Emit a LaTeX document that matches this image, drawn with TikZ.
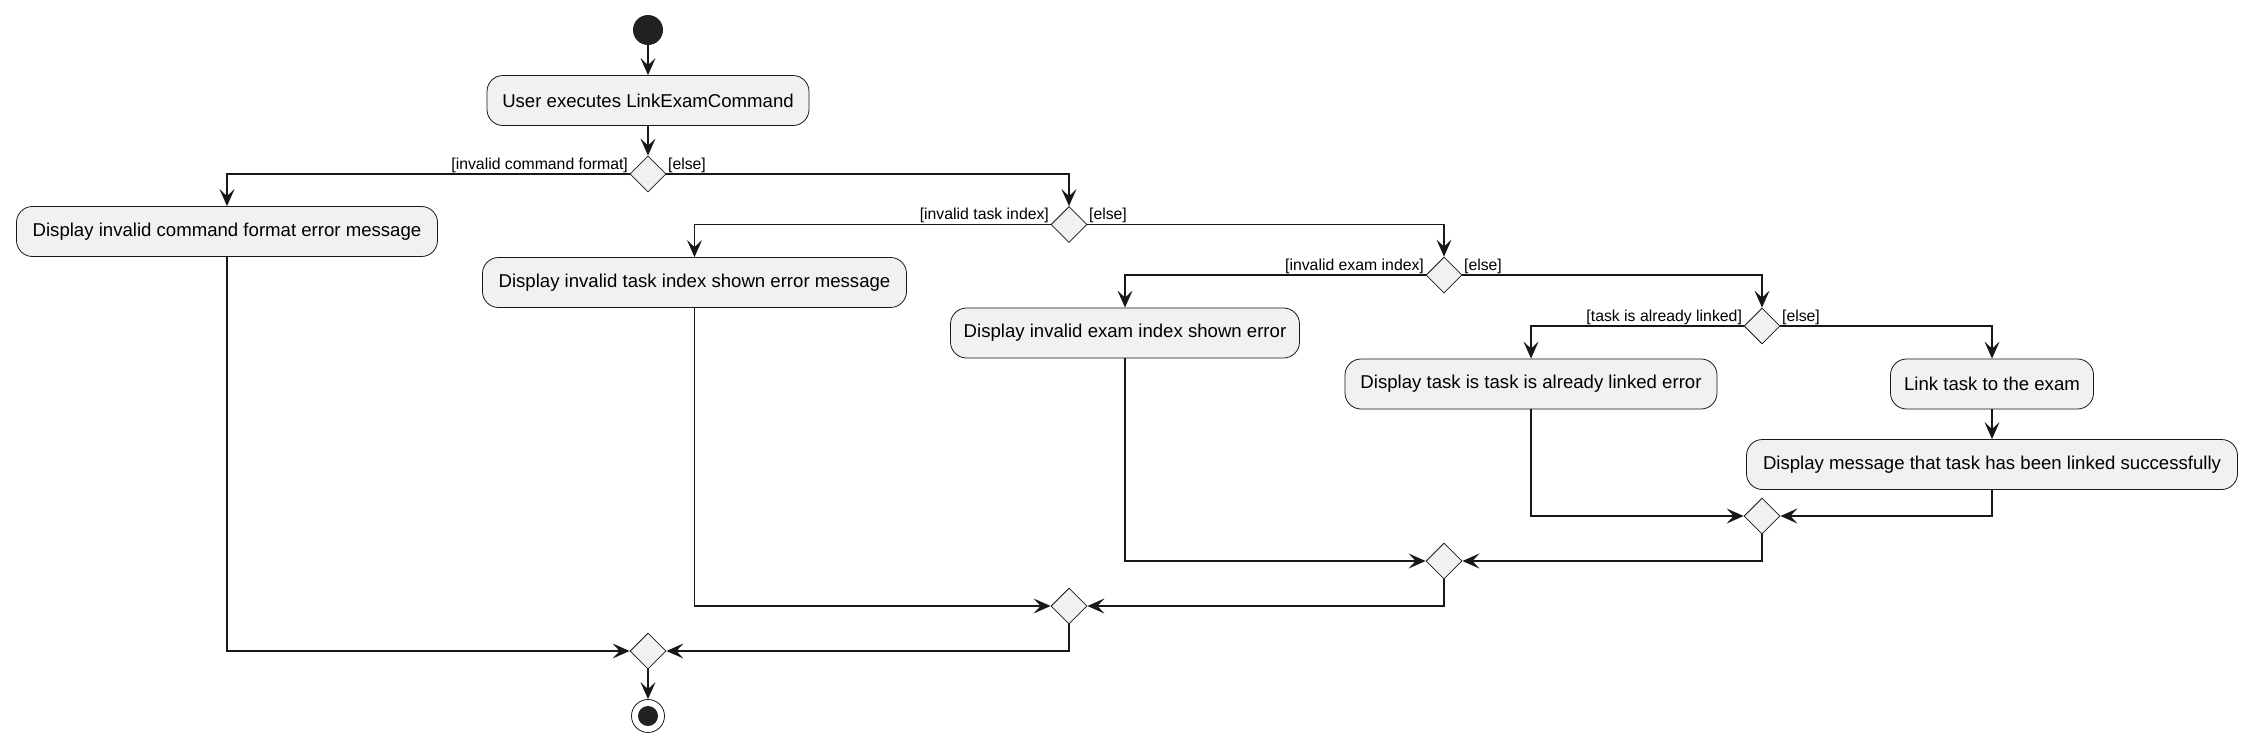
\documentclass[tikz,border=0pt]{standalone}
\usepackage{fontspec}
\setmainfont{Liberation Sans}
\usetikzlibrary{arrows.meta,shapes.geometric}
\definecolor{boxfill}{HTML}{F1F1F1}
\definecolor{edgec}{HTML}{181818}
\definecolor{dotc}{HTML}{222222}
\begin{document}
\begin{tikzpicture}[x=1pt,y=-1pt,
  act/.style={draw=edgec,line width=0.8pt,fill=boxfill,rounded corners=16pt,minimum height=50pt,inner sep=0pt,font=\fontsize{18.6}{20}\selectfont},
  dec/.style={draw=edgec,line width=0.8pt,fill=boxfill,diamond,minimum width=36pt,minimum height=36pt,inner sep=0pt},
  conn/.style={draw=edgec,line width=1.5pt,-{Stealth[length=17pt,width=15pt,inset=7pt]}},
  guard/.style={font=\fontsize{15.8}{17}\selectfont,inner sep=1.5pt},
]
\useasboundingbox (0,0) rectangle (2253,747);
\fill[white] (0,0) rectangle (2253,747);

\node[circle,fill=dotc,minimum size=30pt,inner sep=0pt] (start) at (648,30) {};
\node[act,minimum width=322pt] (a) at (648,100.5) {User executes LinkExamCommand};
\node[dec] (d1) at (648,174) {};
\node[act,minimum width=421pt] (b) at (227,231.5) {Display invalid command format error message};
\node[dec] (d2) at (1069,224.5) {};
\node[act,minimum width=424pt] (c) at (694.5,282.5) {Display invalid task index shown error message};
\node[dec] (d3) at (1444,275) {};
\node[act,minimum width=349pt] (d) at (1125,333) {Display invalid exam index shown error};
\node[dec] (d4) at (1762,326) {};
\node[act,minimum width=372pt] (e) at (1531,384) {Display task is task is already linked error};
\node[act,minimum width=203pt] (f) at (1992,384) {Link task to the exam};
\node[act,minimum width=491pt] (g) at (1992,464.5) {Display message that task has been linked successfully};
\node[dec] (m4) at (1762,516) {};
\node[dec] (m3) at (1444,561) {};
\node[dec] (m2) at (1069,606) {};
\node[dec] (m1) at (648,651) {};
\node[circle,draw=edgec,line width=0.8pt,fill=white,minimum size=33pt,inner sep=0pt] (end) at (648,716) {};
\node[circle,fill=dotc,minimum size=20pt,inner sep=0pt] (endin) at (end) {};

\node[guard,anchor=south east] (l1a) at (d1.west) {[invalid command format]};
\node[guard,anchor=south west] (l1b) at (d1.east) {[else]};
\node[guard,anchor=south east] (l2a) at (d2.west) {[invalid task index]};
\node[guard,anchor=south west] (l2b) at (d2.east) {[else]};
\node[guard,anchor=south east] (l3a) at (d3.west) {[invalid exam index]};
\node[guard,anchor=south west] (l3b) at (d3.east) {[else]};
\node[guard,anchor=south east] (l4a) at (d4.west) {[task is already linked]};
\node[guard,anchor=south west] (l4b) at (d4.east) {[else]};

\draw[conn] (start) -- (a);
\draw[conn] (a) -- (d1);
\draw[conn] (d1.west) -| (b.north);
\draw[conn] (d1.east) -| (d2.north);
\draw[conn] (d2.west) -| (c.north);
\draw[conn] (d2.east) -| (d3.north);
\draw[conn] (d3.west) -| (d.north);
\draw[conn] (d3.east) -| (d4.north);
\draw[conn] (d4.west) -| (e.north);
\draw[conn] (d4.east) -| (f.north);
\draw[conn] (f) -- (g);
\draw[conn] (e.south) |- (m4.west);
\draw[conn] (g.south) |- (m4.east);
\draw[conn] (d.south) |- (m3.west);
\draw[conn] (m4.south) |- (m3.east);
\draw[conn] (c.south) |- (m2.west);
\draw[conn] (m3.south) |- (m2.east);
\draw[conn] (b.south) |- (m1.west);
\draw[conn] (m2.south) |- (m1.east);
\draw[conn] (m1) -- (end);
\end{tikzpicture}
\end{document}
